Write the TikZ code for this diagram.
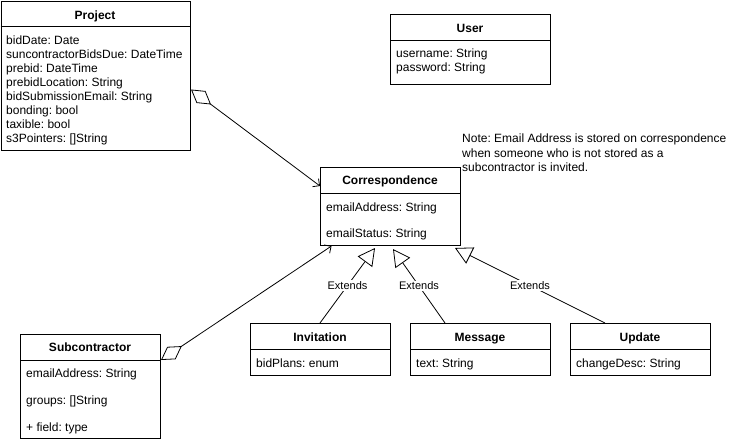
\documentclass[tikz,border=0pt]{standalone}
\usepackage{fontspec}
\setmainfont{Liberation Sans}
\usetikzlibrary{arrows.meta}
\frenchspacing
\begin{document}
\begin{tikzpicture}[x=1pt,y=-1pt,
  box/.style={draw=black, line width=1pt, fill=white, anchor=north west, inner sep=0pt},
  hdr/.style={draw=black, line width=1pt},
  title/.style={font=\fontsize{12}{14}\selectfont\bfseries, inner sep=0pt, anchor=base},
  attr/.style={font=\fontsize{12}{14}\selectfont, inner sep=0pt, anchor=base west},
  lbl/.style={font=\fontsize{11}{13}\selectfont, fill=white, inner sep=1pt},
  agg/.style={draw=black, line width=0.8pt, {Diamond[open,length=25pt,width=15pt]}-{Straight Barb[length=5pt,width=10pt]}},
  gen/.style={draw=black, line width=0.8pt, -{Triangle[open,length=17pt,width=18pt]}},
  ]
\useasboundingbox (0,0) rectangle (741,442);

% Project
\node[box, minimum width=189.5pt, minimum height=149.5pt] (proj) at (0.5,0.5) {};
\draw[hdr] ([yshift=-26pt]proj.north west) -- ([yshift=-26pt]proj.north east);
\node[title] (projT) at (95,19) {Project};
\node[attr] (p1) at (6,44) {bidDate: Date};
\node[attr] (p2) at (6,58) {suncontractorBidsDue: DateTime};
\node[attr] (p3) at (6,72) {prebid: DateTime};
\node[attr] (p4) at (6,86) {prebidLocation: String};
\node[attr] (p5) at (6,100) {bidSubmissionEmail: String};
\node[attr] (p6) at (6,114) {bonding: bool};
\node[attr] (p7) at (6,128) {taxible: bool};
\node[attr] (p8) at (6,142) {s3Pointers: []String};

% User
\node[box, minimum width=160pt, minimum height=70pt] (user) at (390,14) {};
\draw[hdr] ([yshift=-26pt]user.north west) -- ([yshift=-26pt]user.north east);
\node[title] (userT) at (470,32) {User};
\node[attr] (u1) at (396,57) {username: String};
\node[attr] (u2) at (396,71.5) {password: String};

% Note
\node[attr] (n1) at (462,142.5) {Note: Email Address is stored on correspondence};
\node[attr] (n2) at (462,157) {when someone who is not stored as a};
\node[attr] (n3) at (462,171.5) {subcontractor is invited.};

% Correspondence
\node[box, minimum width=140pt, minimum height=78pt] (corr) at (320,167) {};
\draw[hdr] ([yshift=-26pt]corr.north west) -- ([yshift=-26pt]corr.north east);
\node[title] (corrT) at (390,184) {Correspondence};
\node[attr] (c1) at (326,211) {emailAddress: String};
\node[attr] (c2) at (326,237) {emailStatus: String};

% Subcontractor
\node[box, minimum width=140pt, minimum height=104pt] (sub) at (20,334) {};
\draw[hdr] ([yshift=-26pt]sub.north west) -- ([yshift=-26pt]sub.north east);
\node[title] (subT) at (90,351) {Subcontractor};
\node[attr] (s1) at (26,377) {emailAddress: String};
\node[attr] (s2) at (26,404) {groups: []String};
\node[attr] (s3) at (26,431) {+ field: type};

% Invitation
\node[box, minimum width=140pt, minimum height=52pt] (inv) at (250,323) {};
\draw[hdr] ([yshift=-26pt]inv.north west) -- ([yshift=-26pt]inv.north east);
\node[title] (invT) at (320,341) {Invitation};
\node[attr] (i1) at (256,367) {bidPlans: enum};

% Message
\node[box, minimum width=140pt, minimum height=52pt] (msg) at (410,323) {};
\draw[hdr] ([yshift=-26pt]msg.north west) -- ([yshift=-26pt]msg.north east);
\node[title] (msgT) at (480,341) {Message};
\node[attr] (m1) at (416,367) {text: String};

% Update
\node[box, minimum width=140pt, minimum height=52pt] (upd) at (570,323) {};
\draw[hdr] ([yshift=-26pt]upd.north west) -- ([yshift=-26pt]upd.north east);
\node[title] (updT) at (640,341) {Update};
\node[attr] (d1) at (576,367) {changeDesc: String};

% Aggregations
\draw[agg] ([yshift=-89pt]proj.north east) -- ([yshift=-19pt]corr.north west);
\draw[agg] ([yshift=-26pt]sub.north east) -- ([xshift=11.5pt]corr.south west);

% Generalizations
\draw[gen] ([xshift=70pt]inv.north west) -- node[lbl] (e1) {Extends} ([xshift=55pt,yshift=-2pt]corr.south west);
\draw[gen] ([xshift=35pt]msg.north west) -- node[lbl] (e2) {Extends} ([xshift=73pt,yshift=-3pt]corr.south west);
\draw[gen] ([xshift=35pt]upd.north west) -- node[lbl] (e3) {Extends} ([xshift=-6pt,yshift=-2pt]corr.south east);
\end{tikzpicture}
\end{document}
